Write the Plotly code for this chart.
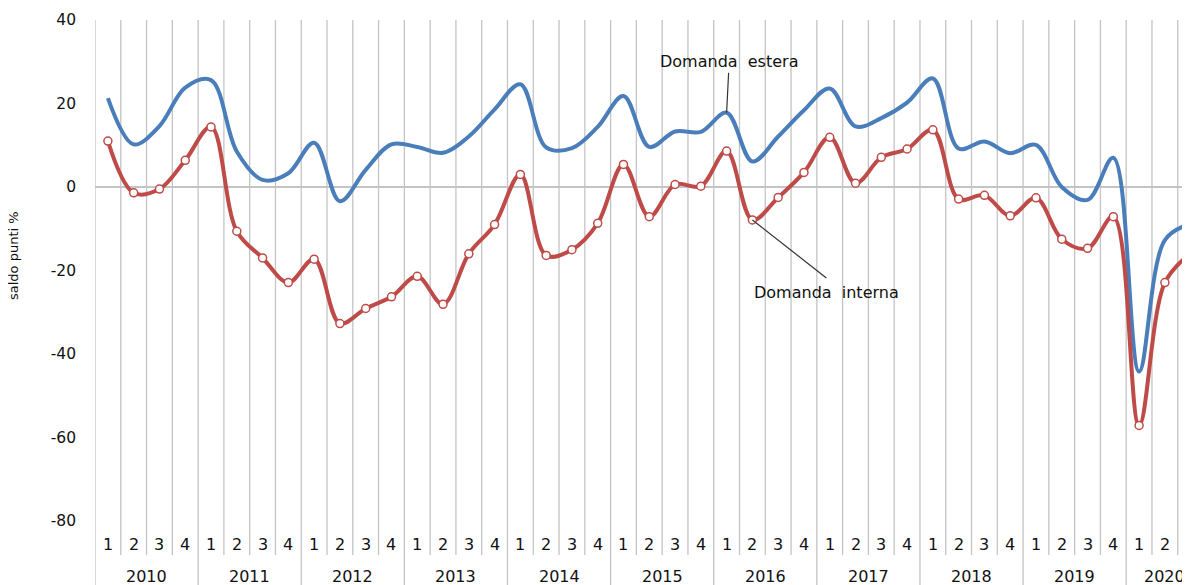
import plotly.graph_objects as go

# ---------------- data ----------------
years = ["2010", "2011", "2012", "2013", "2014", "2015", "2016", "2017", "2018", "2019", "2020"]
quarters_per_year = [4, 4, 4, 4, 4, 4, 4, 4, 4, 4, 3]
quarter_labels = ["1", "2", "3", "4"] * 10 + ["1", "2", "3"]

domanda_interna = [
    11.0, -1.4, -0.5, 6.4,
    14.4, -10.6, -17.0, -22.9,
    -17.3, -32.7, -29.1, -26.3,
    -21.4, -28.1, -16.0, -9.0,
    3.0, -16.4, -15.0, -8.7,
    5.4, -7.1, 0.6, 0.2,
    8.6, -7.9, -2.5, 3.5,
    11.9, 0.9, 7.1, 9.1,
    13.7, -2.9, -2.0, -6.9,
    -2.6, -12.5, -14.7, -7.1,
    -57.1, -22.9, -15.9,
]
domanda_estera = [
    21.3, 10.2, 14.6, 23.8,
    25.6, 8.5, 1.7, 3.3,
    10.6, -3.4, 4.1, 10.2,
    9.6, 8.2, 12.1, 18.6,
    24.6, 9.5, 9.3, 14.4,
    21.8, 9.6, 13.3, 13.2,
    17.8, 6.1, 12.1, 18.4,
    23.6, 14.5, 16.5, 20.2,
    26.0, 9.2, 10.9, 8.1,
    10.1, 0.0, -3.1, 7.0,
    -44.2, -12.7, -8.8,
]
y_ticks = [-80, -60, -40, -20, 0, 20, 40]
y_ticktext = ["-80", "-60", "-40", "-20", "0", "20", "40"]

label_estera = "Domanda&nbsp;&nbsp;estera"
label_interna = "Domanda&nbsp;&nbsp;interna"
y_title = "saldo punti %"

# ---------------- styling ----------------
# the page body has an 8px default margin; the figure is sized/placed to compensate
OFF = 8
W, H = 1190 - OFF, 585 - OFF
ML, MR, MT, MB = 95 - OFF, 0, 20 - OFF, 30
plot_h = H - MT - MB
px_per_unit = (521 - 20) / 120.0
y_max = 40
y_min = y_max - plot_h / px_per_unit
px_per_q = 25.78
x_min = -0.5
x_max = x_min + (W - ML - MR) / px_per_q

BLUE = "#4a7ebb"
RED = "#be4b48"
GRID = "#c4c4c4"
TXT = "#111111"
FONT = "DejaVu Sans, Verdana, sans-serif"

n = len(quarter_labels)
xs = list(range(n))

fig = go.Figure()
fig.add_trace(go.Scatter(
    x=xs, y=domanda_estera, mode="lines", name="Domanda estera",
    line=dict(color=BLUE, width=4, shape="spline", smoothing=1.0),
    hoverinfo="skip",
))
fig.add_trace(go.Scatter(
    x=xs, y=domanda_interna, mode="lines+markers", name="Domanda interna",
    line=dict(color=RED, width=4, shape="spline", smoothing=1.0),
    marker=dict(symbol="circle", size=8, color="white", line=dict(color=RED, width=1.5)),
    hoverinfo="skip",
))

shapes = []
# quarter / year separators
year_starts = []
acc = 0
for q in quarters_per_year:
    year_starts.append(acc)
    acc += q
for k in range(n + 1):
    is_year = k in year_starts or k == n
    shapes.append(dict(
        type="line", xref="x", yref="paper",
        x0=k - 0.5, x1=k - 0.5,
        y0=(-MB / plot_h) if is_year else 0, y1=1,
        line=dict(color=GRID, width=1.3), layer="below",
    ))

annotations = []
# quarter labels
q_y = (585 - MB - 544) / plot_h
for i, lab in enumerate(quarter_labels):
    if i <= x_max:
        annotations.append(dict(
            x=i, y=q_y, xref="x", yref="paper", text=lab, showarrow=False,
            font=dict(family=FONT, size=16, color=TXT), xanchor="center", yanchor="middle",
        ))
    else:
        annotations.append(dict(
            x=(i - x_min) / (x_max - x_min), y=q_y, xref="paper", yref="paper", text=lab,
            showarrow=False, font=dict(family=FONT, size=16, color=TXT),
            xanchor="center", yanchor="middle",
        ))
# year labels
yr_y = (585 - MB - 576) / plot_h
for s, q, yr in zip(year_starts, quarters_per_year, years):
    annotations.append(dict(
        x=s + (q - 1) / 2, y=yr_y, xref="x", yref="paper", text=yr, showarrow=False,
        font=dict(family=FONT, size=16, color=TXT), xanchor="center", yanchor="middle",
    ))
# series labels with leader lines
i_e = 24
annotations.append(dict(
    x=i_e, y=domanda_estera[i_e], xref="x", yref="y", text=label_estera,
    showarrow=True, arrowhead=0, arrowwidth=1.2, arrowcolor="#333333",
    ax=2, ay=-40, xanchor="center", yanchor="bottom",
    font=dict(family=FONT, size=16, color=TXT),
))
i_i = 25
annotations.append(dict(
    x=i_i, y=domanda_interna[i_i], xref="x", yref="y", text=label_interna,
    showarrow=True, arrowhead=0, arrowwidth=1.2, arrowcolor="#333333",
    ax=74, ay=58, xanchor="center", yanchor="top", borderpad=4,
    font=dict(family=FONT, size=16, color=TXT),
))
# y axis title
annotations.append(dict(
    x=0, y=(585 - MB - 256) / plot_h, xref="paper", yref="paper", xshift=14 - 95,
    text=y_title, showarrow=False, textangle=-90,
    font=dict(family=FONT, size=13, color=TXT), xanchor="center", yanchor="middle",
))

fig.update_layout(
    width=W, height=H,
    margin=dict(l=ML, r=MR, t=MT, b=MB, pad=0),
    paper_bgcolor="white", plot_bgcolor="white",
    showlegend=False,
    shapes=shapes, annotations=annotations,
    xaxis=dict(range=[x_min, x_max], showgrid=False, zeroline=False, showline=False,
               showticklabels=False, ticks="", fixedrange=True),
    yaxis=dict(range=[y_min, y_max], tickvals=y_ticks, ticktext=y_ticktext, showgrid=False,
               zeroline=True, zerolinecolor=GRID, zerolinewidth=1.5,
               showline=False, ticks="", ticklabelstandoff=18,
               tickfont=dict(family=FONT, size=15.5, color=TXT), fixedrange=True),
)

fig.write_html("out.html", config={"displayModeBar": False})
